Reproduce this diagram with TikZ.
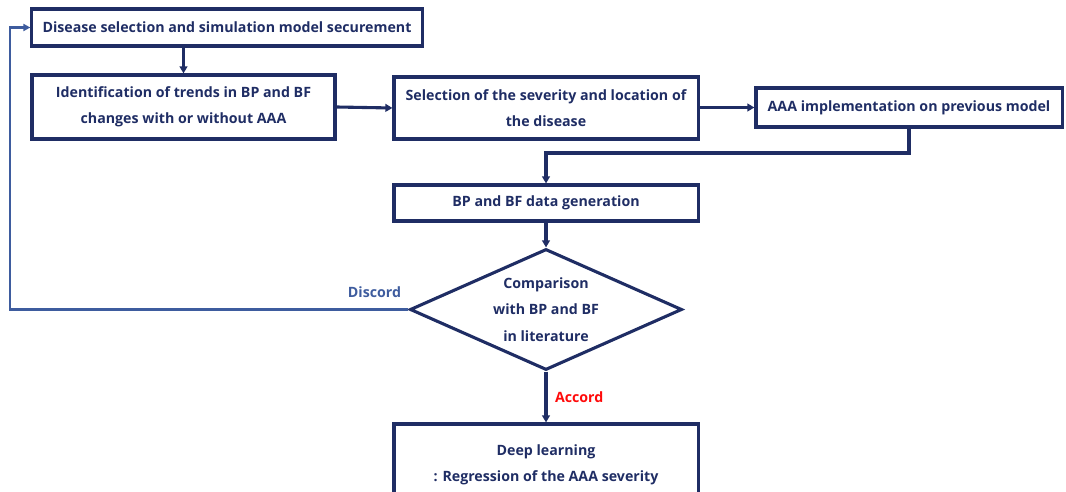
\documentclass[tikz,border=0pt]{standalone}
\usepackage{fontspec}
\setmainfont{Open Sans}
\usepackage{tikz}
\usetikzlibrary{shapes.geometric,arrows.meta}

\definecolor{navy}{RGB}{31,45,100}
\definecolor{loopblue}{RGB}{62,92,158}
\definecolor{accred}{RGB}{255,10,10}

\tikzset{
	stepbox/.style={draw=navy, line width=2.2pt, align=center, inner sep=0pt},
	decide/.style={draw=navy, line width=2.2pt, diamond, align=center, inner sep=0pt, aspect=2.25},
	flow/.style={draw=navy, line width=2.2pt, -{Triangle[length=5pt,width=5.5pt]}},
	back/.style={draw=loopblue, line width=1.7pt, -{Triangle[length=5pt,width=5pt]}},
	txt/.style={font=\bfseries\fontsize{10.1}{18.7}\selectfont, text=navy}
}

\begin{document}
\begin{tikzpicture}[x=0.025cm, y=-0.025cm]

	\useasboundingbox (0,0) rectangle (1066,492);

	% Boxes
	\node[stepbox, txt, minimum width=9.75cm, minimum height=0.925cm] (sel) at (227, 27.5) {Disease selection and simulation model securement};
	\node[stepbox, txt, minimum width=7.575cm, minimum height=1.6cm] (trend) at (183.5, 107) {Identification of trends in BP and BF\\changes with or without AAA};
	\node[stepbox, txt, minimum width=7.6cm, minimum height=1.55cm] (sev) at (546, 108) {Selection of the severity and location of\\the disease};
	\node[stepbox, txt, minimum width=7.65cm, minimum height=0.975cm] (impl) at (909, 107.5) {AAA implementation on previous model};
	\node[stepbox, txt, minimum width=7.6cm, minimum height=0.9cm] (gen) at (546, 203) {BP and BF data generation};

	% Decision
	\node[decide, txt, minimum width=6.8cm, minimum height=3.025cm] (cmp) at (546, 309.5) {Comparison\\with BP and BF\\in literature};

	\node[stepbox, txt, minimum width=7.6cm, minimum height=2.05cm] (deep) at (546, 465) {Deep learning\\: Regression of the AAA severity};

	% Connectors
	\draw[flow] (sel.south -| trend.north) -- (trend.north);
	\draw[flow] (trend.east) -- (sev.west);
	\draw[flow] (sev.east |- impl.west) -- (impl.west);
	\coordinate (bend) at (909, 153);
	\draw[flow] (impl.south) -- (bend) -- (bend -| gen.north) -- (gen.north);
	\draw[flow] (gen.south) -- (cmp.north);
	\draw[flow] (cmp.south) -- node[right, font=\bfseries\fontsize{10.1}{12}\selectfont, text=accred, xshift=2pt] {Accord} (deep.north);

	% Draw the loop back
	\coordinate (corner) at (10, 309.5);
	\draw[back] (cmp.west) -- node[above, pos=0.085, yshift=4pt, font=\bfseries\fontsize{10.1}{12}\selectfont, text=loopblue] {Discord} (corner) -- (corner |- sel.west) -- (sel.west);

\end{tikzpicture}
\end{document}
